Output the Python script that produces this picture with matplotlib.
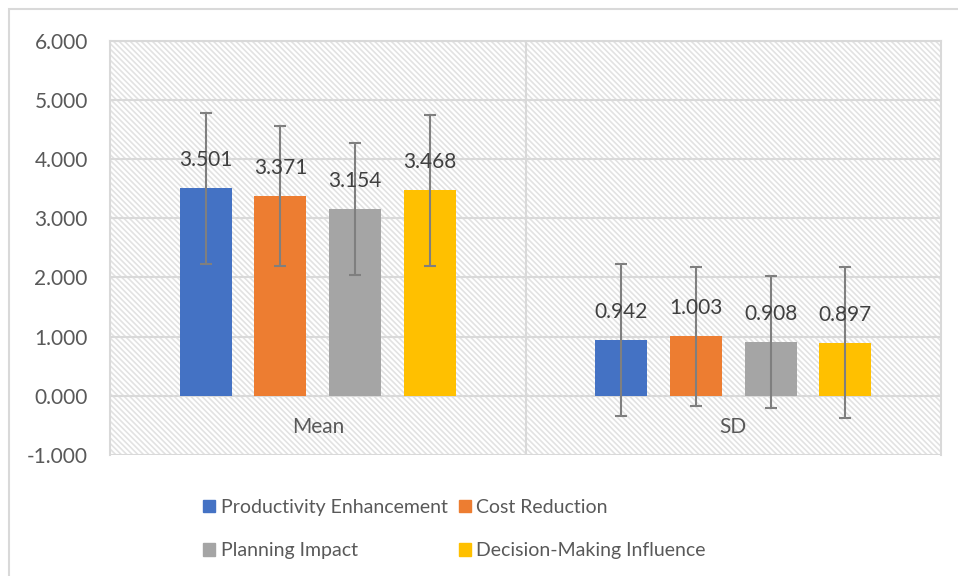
import numpy as np
import matplotlib
matplotlib.use("Agg")
import matplotlib.pyplot as plt
from matplotlib.patches import Rectangle

# data
categories = ["Mean", "SD"]
series = ["Productivity Enhancement", "Cost Reduction",
          "Planning Impact", "Decision-Making Influence"]
values = [[3.501, 0.942],
          [3.371, 1.003],
          [3.154, 0.908],
          [3.468, 0.897]]
errors = [1.28, 1.18, 1.12, 1.28]
colors = ["#4472C4", "#ED7D31", "#A5A5A5", "#FFC000"]
yticks = [-1, 0, 1, 2, 3, 4, 5, 6]

plt.rcParams['font.family'] = ['Lato', 'DejaVu Sans']
plt.rcParams['hatch.linewidth'] = 1.2
grid_c = "#d9d9d9"
txt_c = "#595959"

fig = plt.figure(figsize=(9.58, 5.76), dpi=100)
fig.patch.set_facecolor("white")
# outer chart frame
fig.patches.append(Rectangle((9 / 958, -0.05), 1.0, 1 - 9 / 576 + 0.05,
                             transform=fig.transFigure, fill=False,
                             edgecolor=grid_c, lw=1.5))

ax = fig.add_axes([110 / 958, 1 - 455 / 576, (941 - 110) / 958, (455 - 40.5) / 576])
ax.set_xlim(-0.5, 1.5)
ax.set_ylim(-1, 6)

# hatched plot area background
ax.add_patch(Rectangle((0, 0), 1, 1, transform=ax.transAxes, facecolor="white",
                       edgecolor="#e2e2e2", hatch="\\" * 6, lw=0, zorder=0))

for y in yticks:
    ax.axhline(y, color=grid_c, lw=1.5, zorder=1)
ax.axvline(0.5, color=grid_c, lw=1.5, zorder=1)

x = np.arange(len(categories))
step = 0.1796
width = 0.125
for i, name in enumerate(series):
    xs = x + (i - 1.5) * step
    ax.bar(xs, values[i], width, color=colors[i], label=name, zorder=2)
    ax.errorbar(xs, values[i], yerr=errors[i], fmt="none", ecolor="#7f7f7f",
                elinewidth=1.5, capsize=4.5, capthick=1.5, zorder=3)
    for xi, v in zip(xs, values[i]):
        ax.annotate(f"{v:.3f}", (xi, v), xytext=(0, 13), textcoords="offset points",
                    ha="center", va="bottom", fontsize=15, color="#404040", zorder=4)

for s in ["top", "right", "left"]:
    ax.spines[s].set_color(grid_c)
    ax.spines[s].set_linewidth(1.5)
ax.spines["bottom"].set_visible(False)

ax.set_yticks(yticks)
ax.set_yticklabels([f"{t:.3f}" for t in yticks])
ax.tick_params(axis="y", length=0, pad=16, labelsize=15, labelcolor=txt_c)
ax.set_xticks(x)
ax.set_xticklabels([])
for xi, c in zip(x, categories):
    ax.text(xi, -0.52, c, ha="center", va="center", fontsize=15, color=txt_c, zorder=4)
ax.tick_params(axis="x", length=0)

# legend fills by column, so reorder to get row-wise layout
order = [0, 2, 1, 3]
handles = [Rectangle((0, 0), 1, 1, color=colors[k]) for k in order]
labels = [series[k] for k in order]
fig.legend(handles, labels, loc="center", bbox_to_anchor=(454.5 / 958, 1 - 529 / 576),
           ncol=2, frameon=False, fontsize=14, labelcolor=txt_c,
           handlelength=0.62, handleheight=0.62, handletextpad=0.3,
           columnspacing=0.55, labelspacing=1.35)

fig.savefig("out.png", dpi=100)
